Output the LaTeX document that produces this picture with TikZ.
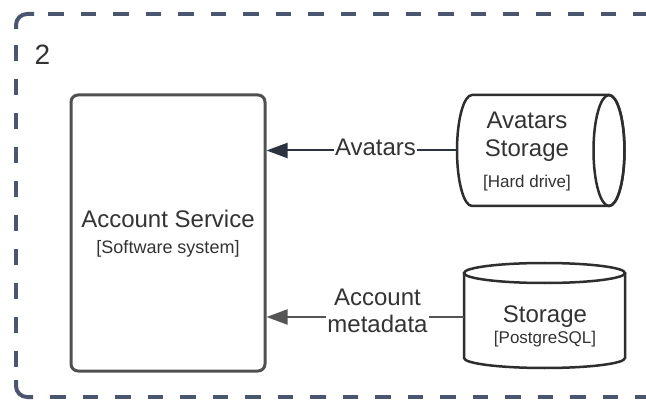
\documentclass[tikz,border=0pt]{standalone}
\usepackage{fontspec}
\setmainfont{Liberation Sans}
\usetikzlibrary{arrows.meta,calc}
\definecolor{framec}{HTML}{4A5570}
\definecolor{boxc}{HTML}{505050}
\definecolor{cylc}{HTML}{2E2E2E}
\definecolor{txtc}{HTML}{333333}
\definecolor{arrA}{HTML}{2C3340}
\definecolor{arrB}{HTML}{555555}
\newcommand\fs[2]{\fontsize{#1}{#2}\selectfont}
\tikzset{
  framestyle/.style={draw=framec, line width=4pt},
  framedashH/.style={framestyle, dash pattern=on 15.5pt off 17pt},
  framedashV/.style={framestyle, dash pattern=on 16pt off 18pt},
  svcbox/.style={draw=boxc, line width=3pt, rounded corners=7pt, fill=white},
  cyl/.style={draw=cylc, line width=2.5pt},
  txt/.style={text=txtc, inner sep=0pt, align=center},
  lbl/.style={text=txtc, inner sep=1pt, fill=white, align=center},
  conA/.style={draw=arrA, line width=2pt, -{Triangle[length=21pt,width=15pt]}},
  conB/.style={draw=arrB, line width=2pt, -{Triangle[length=21pt,width=15pt]}},
}
\begin{document}
\begin{tikzpicture}[x=1pt,y=-1pt]
\useasboundingbox (0,0) rectangle (646,401);
\clip (0,0) rectangle (646,401);
\fill[white] (0,0) rectangle (646,401);
% frame
\draw[framestyle, line cap=butt] (34,14) -- (27,14) arc[start angle=90, end angle=180, radius=11pt] -- (16,29);
\draw[framestyle, line cap=butt] (16,380) -- (16,386) arc[start angle=180, end angle=270, radius=11pt] -- (33,397);
\draw[framedashH, dash phase=18.5pt] (34,14) -- (700,14);
\draw[framedashV, dash phase=18pt] (16,29) -- (16,380);
\draw[framedashH, dash phase=15.5pt] (33,397) -- (700,397);
\node[txt, anchor=base, font=\fs{28}{32}] (two) at (42.5,65) {2};
% account service
\node[svcbox, minimum width=194pt, minimum height=276pt] (svc) at (168,233) {};
\node[txt, font=\fs{24}{25.5}] (svct) at (168,233.5) {Account Service\\{\fs{18}{25.5}[Software system]}};
% avatars storage cylinder (horizontal)
\draw[cyl, fill=white] (472,206) arc[start angle=270, end angle=90, x radius=15pt, y radius=55.5pt] -- (609,95) arc[start angle=90, end angle=-90, x radius=15.5pt, y radius=55.5pt] -- cycle;
\draw[cyl] (609,150.5) ellipse[x radius=15.5pt, y radius=55.5pt];
\node[txt, font=\fs{24}{28}] (avt) at (527,152) {Avatars\\Storage\\[3pt]{\fs{17}{28}[Hard drive]}};
\coordinate (avw) at (457,150.5);
% storage cylinder (vertical)
\draw[cyl, fill=white] (464,273) -- (464,358) arc[start angle=180, end angle=360, x radius=80.5pt, y radius=10pt] -- (625,273);
\draw[cyl] (544.5,273) ellipse[x radius=80.5pt, y radius=10pt];
\node[txt, font=\fs{24}{21.6}] (stt) at (545,326.5) {Storage\\{\fs{17}{21.6}[PostgreSQL]}};
\coordinate (stw) at (464,317);
% connectors
\draw[conA] (avw) -- (svc.east |- avw);
\draw[conB] (stw) -- (svc.east |- stw);
\node[lbl, font=\fs{24}{27}] (l1) at (375.5,147.4) {Avatars};
\node[lbl, font=\fs{24}{27}] (l2) at (377.5,310.9) {Account\\metadata};
\end{tikzpicture}
\end{document}
